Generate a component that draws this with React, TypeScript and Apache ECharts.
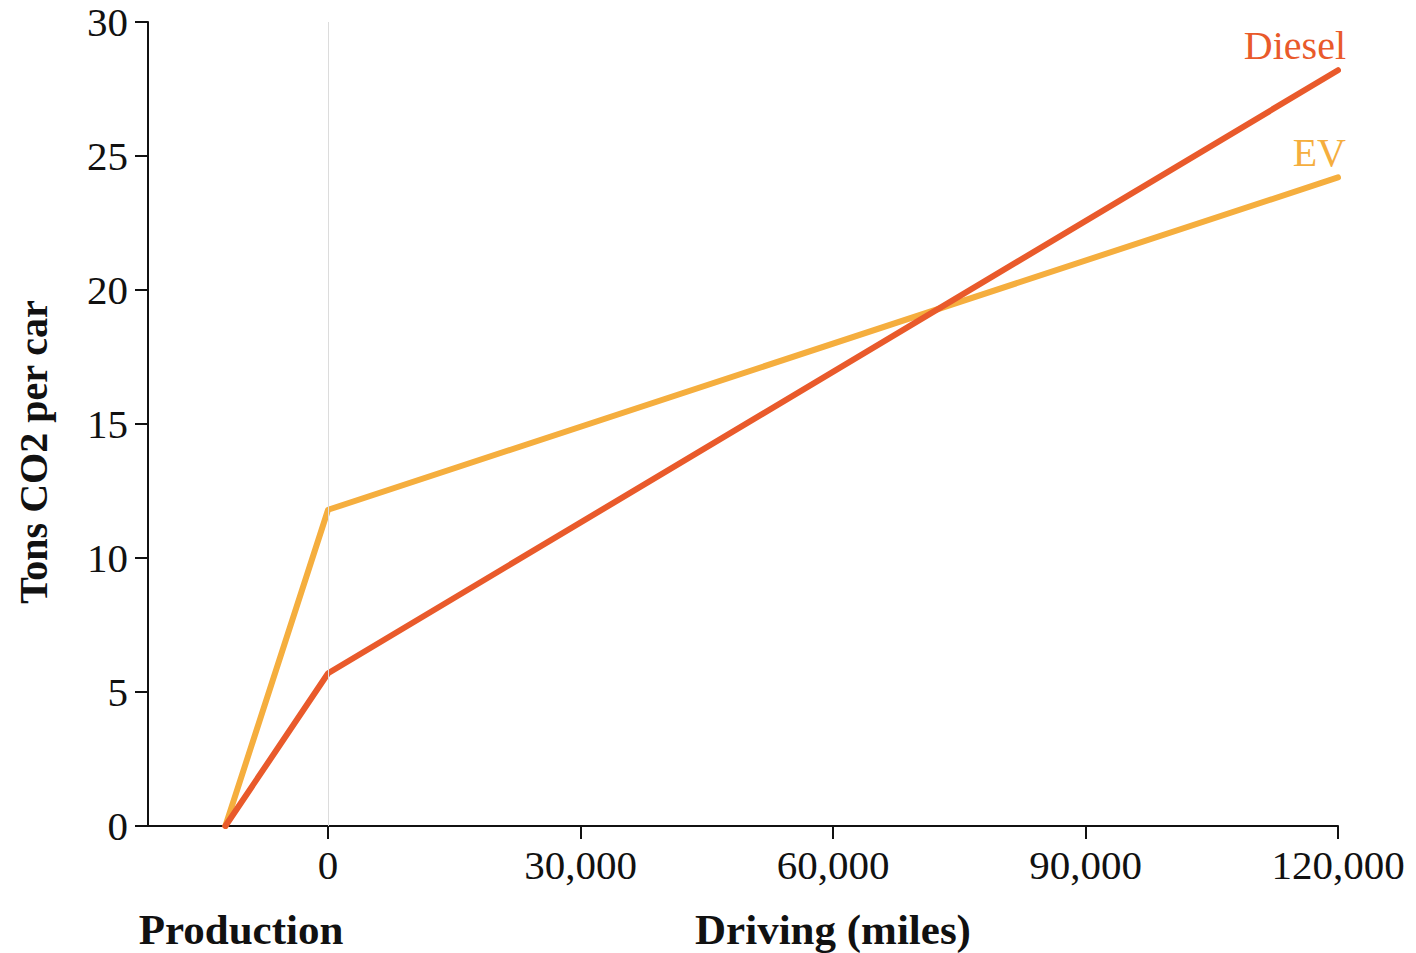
import React, { useEffect, useRef } from "react";
import * as echarts from "echarts";

const milesX = [-12200, 0, 120000];
const dieselValues = [0, 5.7, 28.2];
const evValues = [0, 11.8, 24.2];
const xTickValues = [0, 30000, 60000, 90000, 120000];
const seriesNames = ["Diesel", "EV"];

const FONT = "'Liberation Serif', 'Times New Roman', serif";
const DIESEL_COLOR = "#E95A2B";
const EV_COLOR = "#F5AE3E";

export default function App() {
  const ref = useRef<HTMLDivElement>(null);
  useEffect(() => {
    if (!ref.current) return;
    const chart = echarts.init(ref.current, undefined, { renderer: "svg" });
    const mk = (vals: number[]) => vals.map((v, i) => [milesX[i], v]);
    const endLabel = (name: string, color: string) => ({
      show: true,
      position: "top" as const,
      align: "right" as const,
      distance: 4,
      offset: [8, 0],
      formatter: (p: any) => (p.dataIndex === milesX.length - 1 ? name : ""),
      color,
      fontFamily: FONT,
      fontSize: 40,
    });
    chart.setOption({
      animation: false,
      textStyle: { fontFamily: FONT },
      grid: { left: 148, right: 78, top: 22, bottom: 127, containLabel: false },
      xAxis: {
        type: "value",
        min: -21400,
        max: 120000,
        axisLine: { show: true, onZero: false, lineStyle: { color: "#111", width: 2 } },
        axisTick: { show: true, length: 13, customValues: xTickValues, lineStyle: { color: "#111", width: 2 } },
        axisLabel: {
          customValues: xTickValues,
          formatter: (v: number) => v.toLocaleString("en-US"),
          color: "#111",
          fontFamily: FONT,
          fontSize: 41,
          margin: 18,
        },
        splitLine: { show: false },
      },
      yAxis: {
        type: "value",
        min: 0,
        max: 30,
        interval: 5,
        axisLine: { show: true, onZero: false, lineStyle: { color: "#111", width: 2 } },
        axisTick: { show: true, length: 13, lineStyle: { color: "#111", width: 2 } },
        axisLabel: { color: "#111", fontFamily: FONT, fontSize: 41, margin: 20 },
        splitLine: { show: false },
      },
      series: [
        {
          name: seriesNames[1],
          type: "line",
          data: mk(evValues),
          symbol: "circle",
          showSymbol: true,
          symbolSize: 2,
          lineStyle: { color: EV_COLOR, width: 6, cap: "round", join: "round" },
          itemStyle: { color: EV_COLOR },
          label: endLabel(seriesNames[1], EV_COLOR),
          markLine: {
            silent: true,
            symbol: "none",
            label: { show: false },
            lineStyle: { color: "#dcdcdc", width: 1, type: "solid" },
            data: [{ xAxis: 0 }],
          },
          z: 3,
        },
        {
          name: seriesNames[0],
          type: "line",
          data: mk(dieselValues),
          symbol: "circle",
          showSymbol: true,
          symbolSize: 2,
          lineStyle: { color: DIESEL_COLOR, width: 6, cap: "round", join: "round" },
          itemStyle: { color: DIESEL_COLOR },
          label: endLabel(seriesNames[0], DIESEL_COLOR),
          z: 4,
        },
      ],
      graphic: [
        {
          type: "text",
          x: 33,
          y: 452,
          rotation: Math.PI / 2,
          style: {
            text: "Tons CO2 per car",
            fontFamily: FONT,
            fontSize: 40,
            fontWeight: "bold",
            fill: "#111",
            align: "center",
            verticalAlign: "middle",
          },
        },
        {
          type: "text",
          x: 241,
          y: 929,
          style: {
            text: "Production",
            fontFamily: FONT,
            fontSize: 43,
            fontWeight: "bold",
            fill: "#111",
            align: "center",
            verticalAlign: "middle",
          },
        },
        {
          type: "text",
          x: 833,
          y: 929,
          style: {
            text: "Driving (miles)",
            fontFamily: FONT,
            fontSize: 43,
            fontWeight: "bold",
            fill: "#111",
            align: "center",
            verticalAlign: "middle",
          },
        },
      ],
    });
    return () => chart.dispose();
  }, []);
  return (
    <div
      ref={ref}
      style={{ position: "fixed", left: 0, top: 0, width: 1416, height: 953, background: "#fff" }}
    />
  );
}
